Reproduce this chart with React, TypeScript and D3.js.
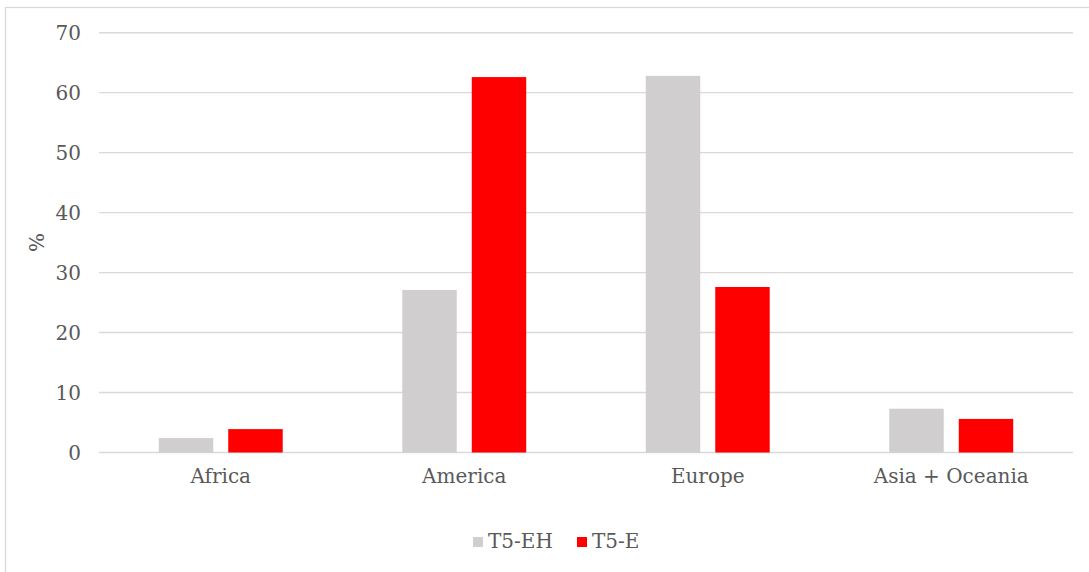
import { useEffect, useRef } from "react";
import * as d3 from "d3";

// regions on the x axis
const categories = ["Africa", "America", "Europe", "Asia + Oceania"];
const seriesNames = ["T5-EH", "T5-E"];
// share in %
const t5EH = [2.4, 27.1, 62.8, 7.3];
const t5E = [3.9, 62.6, 27.6, 5.6];
const yTicks = [0, 10, 20, 30, 40, 50, 60, 70];

const W = 1089;
const H = 572;
const FONT = '"DejaVu Serif", serif';
const TEXT = "#595959";
const GRID = "#D9D9D9";
const colors = ["#D0CECE", "#FF0000"];

const App = () => {
  const ref = useRef<SVGSVGElement>(null);

  useEffect(() => {
    const svg = d3.select(ref.current);
    svg.selectAll("*").remove();

    const plotLeft = 99;
    const plotRight = 1073;

    const x = d3.scaleBand<string>().domain(categories).range([plotLeft, plotRight]).padding(0);
    const groupW = x.bandwidth() * 0.509;
    const xInner = d3.scaleBand<string>().domain(seriesNames).range([0, groupW]).paddingInner(0.216);
    const y = d3.scaleLinear().domain([0, 70]).range([452.5, 32.7]);

    // chart area border (runs off the right / bottom of the crop)
    svg.append("rect")
      .attr("x", 5.5).attr("y", 7.5)
      .attr("width", W + 20).attr("height", H + 20)
      .attr("fill", "#fff")
      .attr("stroke", GRID).attr("stroke-width", 1.3);

    // grid
    svg.append("g").selectAll("line")
      .data(yTicks)
      .join("line")
      .attr("x1", plotLeft).attr("x2", plotRight)
      .attr("y1", (d) => y(d)).attr("y2", (d) => y(d))
      .attr("stroke", GRID).attr("stroke-width", 1.4);

    // y tick labels
    svg.append("g").selectAll("text")
      .data(yTicks)
      .join("text")
      .attr("x", 81).attr("y", (d) => y(d))
      .attr("dy", "0.35em")
      .attr("text-anchor", "end")
      .attr("fill", TEXT)
      .text((d) => d);

    // y title
    svg.append("text")
      .attr("transform", `translate(37,${(y(0) + y(70)) / 2}) rotate(-90)`)
      .attr("text-anchor", "middle")
      .attr("dy", "0.35em")
      .attr("fill", TEXT)
      .text("%");

    // bars
    const series = [t5EH, t5E];
    series.forEach((vals, si) => {
      svg.append("g").selectAll("rect")
        .data(vals)
        .join("rect")
        .attr("x", (_, i) => (x(categories[i]) as number) + (x.bandwidth() - groupW) / 2 + (xInner(seriesNames[si]) as number))
        .attr("width", xInner.bandwidth())
        .attr("y", (d) => y(d))
        .attr("height", (d) => y(0) - y(d))
        .attr("fill", colors[si]);
    });

    // category labels
    svg.append("g").selectAll("text")
      .data(categories)
      .join("text")
      .attr("x", (d) => (x(d) as number) + x.bandwidth() / 2)
      .attr("y", 482.5)
      .attr("text-anchor", "middle")
      .attr("fill", TEXT)
      .text((d) => d);

    // legend
    const legendX = [473, 577];
    const lg = svg.append("g");
    seriesNames.forEach((name, i) => {
      lg.append("rect")
        .attr("x", legendX[i]).attr("y", 537)
        .attr("width", 10).attr("height", 10)
        .attr("fill", colors[i]);
      lg.append("text")
        .attr("x", legendX[i] + 15).attr("y", 548)
        .attr("fill", TEXT)
        .text(name);
    });
  }, []);

  return (
    <div style={{ position: "absolute", left: 0, top: 0, width: W, height: H, overflow: "hidden", background: "#fff" }}>
      <svg ref={ref} width={W} height={H} style={{ display: "block", fontFamily: FONT, fontSize: 20 }}></svg>
    </div>
  );
};

export default App;
